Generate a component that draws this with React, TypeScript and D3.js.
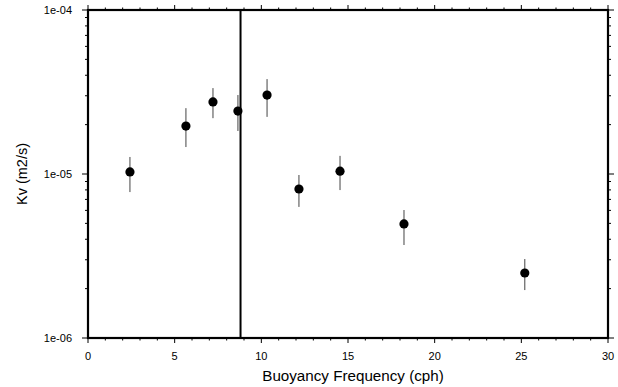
import React from "react";
import * as d3 from "d3";

const freq = [2.42, 5.65, 7.21, 8.65, 10.33, 12.17, 14.54, 18.23, 25.2];
const kv = [1.03e-5, 1.96e-5, 2.75e-5, 2.42e-5, 3.03e-5, 8.1e-6, 1.04e-5, 4.96e-6, 2.49e-6];
const kvHigh = [1.27e-5, 2.52e-5, 3.34e-5, 3.03e-5, 3.79e-5, 9.86e-6, 1.29e-5, 6.03e-6, 3.03e-6];
const kvLow = [7.76e-6, 1.46e-5, 2.19e-5, 1.83e-5, 2.23e-5, 6.3e-6, 7.98e-6, 3.69e-6, 1.96e-6];
const cutoffFreq = 8.8;
const xTickValues = [0, 5, 10, 15, 20, 25, 30];
const yTickValues = [1e-6, 1e-5, 1e-4];
const yTickLabels = ["1e-06", "1e-05", "1e-04"];
const xLabel = "Buoyancy Frequency (cph)";
const yLabel = "Kv (m2/s)";

const W = 618;
const H = 387;
const L = 88, R = 608, T = 10, B = 338;

export default function App() {
  const x = d3.scaleLinear().domain([0, 30]).range([L, R]);
  const y = d3.scaleLog().domain([1e-6, 1e-4]).range([B, T]);
  const font = "'Liberation Sans', Arial, Helvetica, sans-serif";

  const xMinor = d3.range(0, 31, 1).filter((v) => v % 5 !== 0);
  const yMinor: number[] = [];
  [1e-6, 1e-5].forEach((d) => {
    for (let k = 2; k <= 9; k++) yMinor.push(d * k);
  });

  const pts = freq.map((f, i) => ({ f, v: kv[i], hi: kvHigh[i], lo: kvLow[i] }));

  return (
    <svg width={W} height={H} style={{ position: "absolute", left: 0, top: 0, background: "#fff" }}>
      <rect x={0} y={0} width={W} height={H} fill="#fff" />
      {xTickValues.map((v) => (
        <line key={"xb" + v} x1={x(v)} x2={x(v)} y1={B} y2={B + 5} stroke="#000" strokeWidth={1} />
      ))}
      {xMinor.map((v) => (
        <line key={"xbm" + v} x1={x(v)} x2={x(v)} y1={B} y2={B + 2.5} stroke="#000" strokeWidth={1} />
      ))}
      {xTickValues.map((v) => (
        <line key={"xt" + v} x1={x(v)} x2={x(v)} y1={T} y2={T - 5} stroke="#000" strokeWidth={1} />
      ))}
      {xMinor.map((v) => (
        <line key={"xtm" + v} x1={x(v)} x2={x(v)} y1={T} y2={T - 2.5} stroke="#000" strokeWidth={1} />
      ))}
      {yTickValues.map((v) => (
        <g key={"y" + v}>
          <line x1={L - 6} x2={L} y1={y(v)} y2={y(v)} stroke="#000" strokeWidth={1} />
          <line x1={R} x2={R + 6} y1={y(v)} y2={y(v)} stroke="#000" strokeWidth={1} />
        </g>
      ))}
      {yMinor.map((v) => (
        <g key={"ym" + v}>
          <line x1={L - 3} x2={L} y1={y(v)} y2={y(v)} stroke="#000" strokeWidth={1} />
          <line x1={R} x2={R + 3} y1={y(v)} y2={y(v)} stroke="#000" strokeWidth={1} />
        </g>
      ))}
      <rect x={L} y={T} width={R - L} height={B - T} fill="none" stroke="#000" strokeWidth={2.2} />
      <line x1={x(cutoffFreq)} x2={x(cutoffFreq)} y1={T} y2={B} stroke="#000" strokeWidth={2} />
      {xTickValues.map((v) => (
        <text key={"xl" + v} x={x(v)} y={360} textAnchor="middle" fontSize={11} fontFamily={font} fill="#000">
          {v}
        </text>
      ))}
      {yTickValues.map((v, i) => (
        <text key={"yl" + v} x={72} y={y(v) + 4} textAnchor="end" fontSize={11} fontFamily={font} fill="#000">
          {yTickLabels[i]}
        </text>
      ))}
      <text x={353} y={381} textAnchor="middle" fontSize={15.2} fontFamily={font} fill="#000">
        {xLabel}
      </text>
      <text
        transform={`translate(27,${(T + B) / 2}) rotate(-90)`}
        textAnchor="middle"
        fontSize={14.5}
        fontFamily={font}
        fill="#000"
      >
        {yLabel}
      </text>
      {pts.map((p, i) => (
        <g key={"p" + i}>
          <line x1={x(p.f)} x2={x(p.f)} y1={y(p.hi)} y2={y(p.lo)} stroke="#444" strokeWidth={1} />
          <circle cx={x(p.f)} cy={y(p.v)} r={4.6} fill="#000" />
        </g>
      ))}
    </svg>
  );
}
